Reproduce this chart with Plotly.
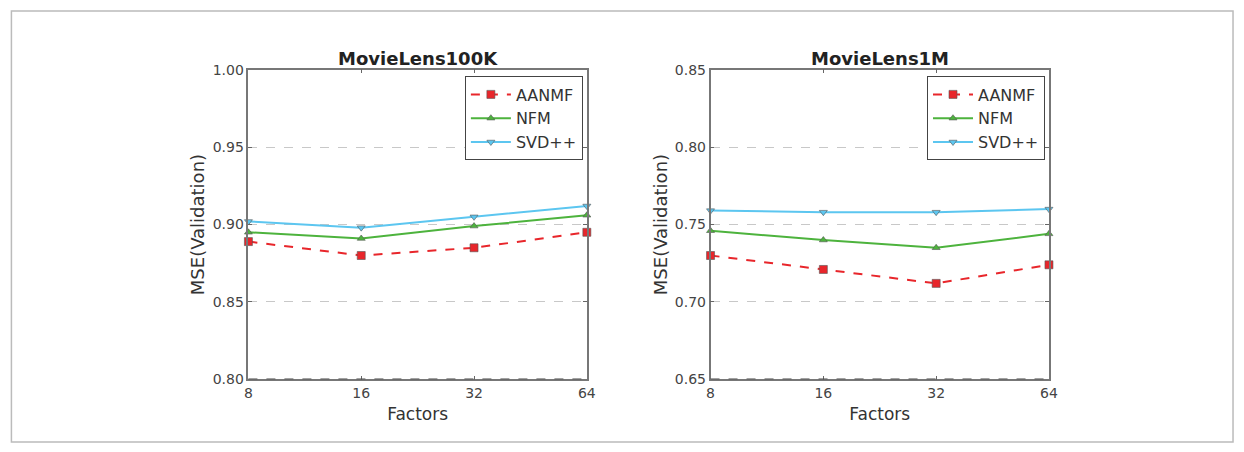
import plotly.graph_objects as go

factors = ["8", "16", "32", "64"]

# MovieLens100K
ml100k_aanmf = [0.889, 0.880, 0.885, 0.895]
ml100k_nfm = [0.895, 0.891, 0.899, 0.906]
ml100k_svdpp = [0.902, 0.898, 0.905, 0.912]

# MovieLens1M
ml1m_aanmf = [0.730, 0.721, 0.712, 0.724]
ml1m_nfm = [0.746, 0.740, 0.735, 0.744]
ml1m_svdpp = [0.759, 0.758, 0.758, 0.760]

series_names = ["AANMF", "NFM", "SVD++"]
titles = ["MovieLens100K", "MovieLens1M"]
y_ticks_100k = [0.80, 0.85, 0.90, 0.95, 1.00]
y_ticks_1m = [0.65, 0.70, 0.75, 0.80, 0.85]

RED = "#e8262b"
GREEN = "#4db33d"
BLUE = "#5cc6f0"
W, H = 1244, 452

fig = go.Figure()

styles = [
    dict(color=RED, dash="dash", symbol="square", size=8),
    dict(color=GREEN, dash="solid", symbol="triangle-up", size=7),
    dict(color=BLUE, dash="solid", symbol="triangle-down", size=7),
]

panels = [
    ([ml100k_aanmf, ml100k_nfm, ml100k_svdpp], "x", "y", "legend"),
    ([ml1m_aanmf, ml1m_nfm, ml1m_svdpp], "x2", "y2", "legend2"),
]
for data, xa, ya, lg in panels:
    for name, vals, st in zip(series_names, data, styles):
        fig.add_trace(go.Scatter(
            x=factors, y=vals, name=name, mode="lines+markers",
            xaxis=xa, yaxis=ya, legend=lg, cliponaxis=False,
            line=dict(color=st["color"], width=2, dash=st["dash"]),
            marker=dict(symbol=st["symbol"], size=st["size"], color=st["color"],
                        line=dict(color="#555555", width=0.6)),
        ))

px = lambda v: v / W
py = lambda v: 1 - v / H

ydom = [py(385), py(64)]
x1dom = [px(247), px(589)]
x2dom = [px(714), px(1056)]

tickfont = dict(family="DejaVu Sans", size=14, color="#444444")

def xaxis(dom, anchor):
    return dict(domain=dom, anchor=anchor, type="category", range=[0, 3],
                categoryorder="array", categoryarray=factors,
                showgrid=False, ticks="inside", ticklen=4, tickcolor="#666666",
                showline=True, linecolor="#777777", linewidth=1.5, mirror="ticks",
                tickfont=tickfont,
                title=dict(text="Factors", font=dict(family="DejaVu Sans", size=17, color="#333333"), standoff=8),
                zeroline=False)

def yaxis(dom, anchor, ticks):
    return dict(domain=dom, anchor=anchor, range=[ticks[0], ticks[-1]],
                tickvals=ticks, ticktext=[f"{t:.2f}" for t in ticks],
                showgrid=True, gridcolor="#c8c8c8", griddash="dash", gridwidth=1,
                ticks="inside", ticklen=4, tickcolor="#666666",
                showline=True, linecolor="#777777", linewidth=1.5, mirror="ticks",
                tickfont=tickfont,
                title=dict(text="MSE(Validation)", font=dict(family="DejaVu Sans", size=18, color="#333333"), standoff=3),
                zeroline=False)

legend_common = dict(bgcolor="rgba(255,255,255,1)", bordercolor="#444444", borderwidth=1,
                     font=dict(family="DejaVu Sans", size=16, color="#333333"),
                     xanchor="right", yanchor="top", tracegroupgap=0, itemwidth=40)

shapes = [
    dict(type="rect", xref="paper", yref="paper", x0=px(7.5), x1=px(1242), y0=py(450), y1=py(3),
         line=dict(color="#bbbbbb", width=1.5)),
]
# dark dashed bottom gridline drawn over the bottom spine (as in the source image)
for xa, ya, ticks in (("x", "y", y_ticks_100k), ("x2", "y2", y_ticks_1m)):
    shapes.append(dict(type="line", xref=f"{xa} domain", yref=ya, x0=0, x1=1, y0=ticks[0], y1=ticks[0],
                       line=dict(color="#444444", width=1.5, dash="dash"), layer="above"))

fig.update_layout(
    width=W, height=H,
    margin=dict(l=0, r=0, t=0, b=0),
    paper_bgcolor="white", plot_bgcolor="white",
    xaxis=xaxis(x1dom, "y"),
    yaxis=yaxis(ydom, "x", y_ticks_100k),
    xaxis2=xaxis(x2dom, "y2"),
    yaxis2=yaxis(ydom, "x2", y_ticks_1m),
    legend=dict(x=px(585), y=py(71), **legend_common),
    legend2=dict(x=px(1052), y=py(71), **legend_common),
    annotations=[
        dict(text=f"<b>{titles[0]}</b>", x=(x1dom[0] + x1dom[1]) / 2, y=py(52), xref="paper", yref="paper",
             xanchor="center", yanchor="middle",
             showarrow=False, font=dict(family="DejaVu Sans", size=18, color="#222222")),
        dict(text=f"<b>{titles[1]}</b>", x=(x2dom[0] + x2dom[1]) / 2, y=py(52), xref="paper", yref="paper",
             xanchor="center", yanchor="middle",
             showarrow=False, font=dict(family="DejaVu Sans", size=18, color="#222222")),
    ],
    shapes=shapes,
)

fig.write_html(
    "out.html",
    config={"displayModeBar": False},
    post_script="document.body.style.margin='0';document.documentElement.style.overflow='hidden';document.body.style.overflow='hidden';",
)
